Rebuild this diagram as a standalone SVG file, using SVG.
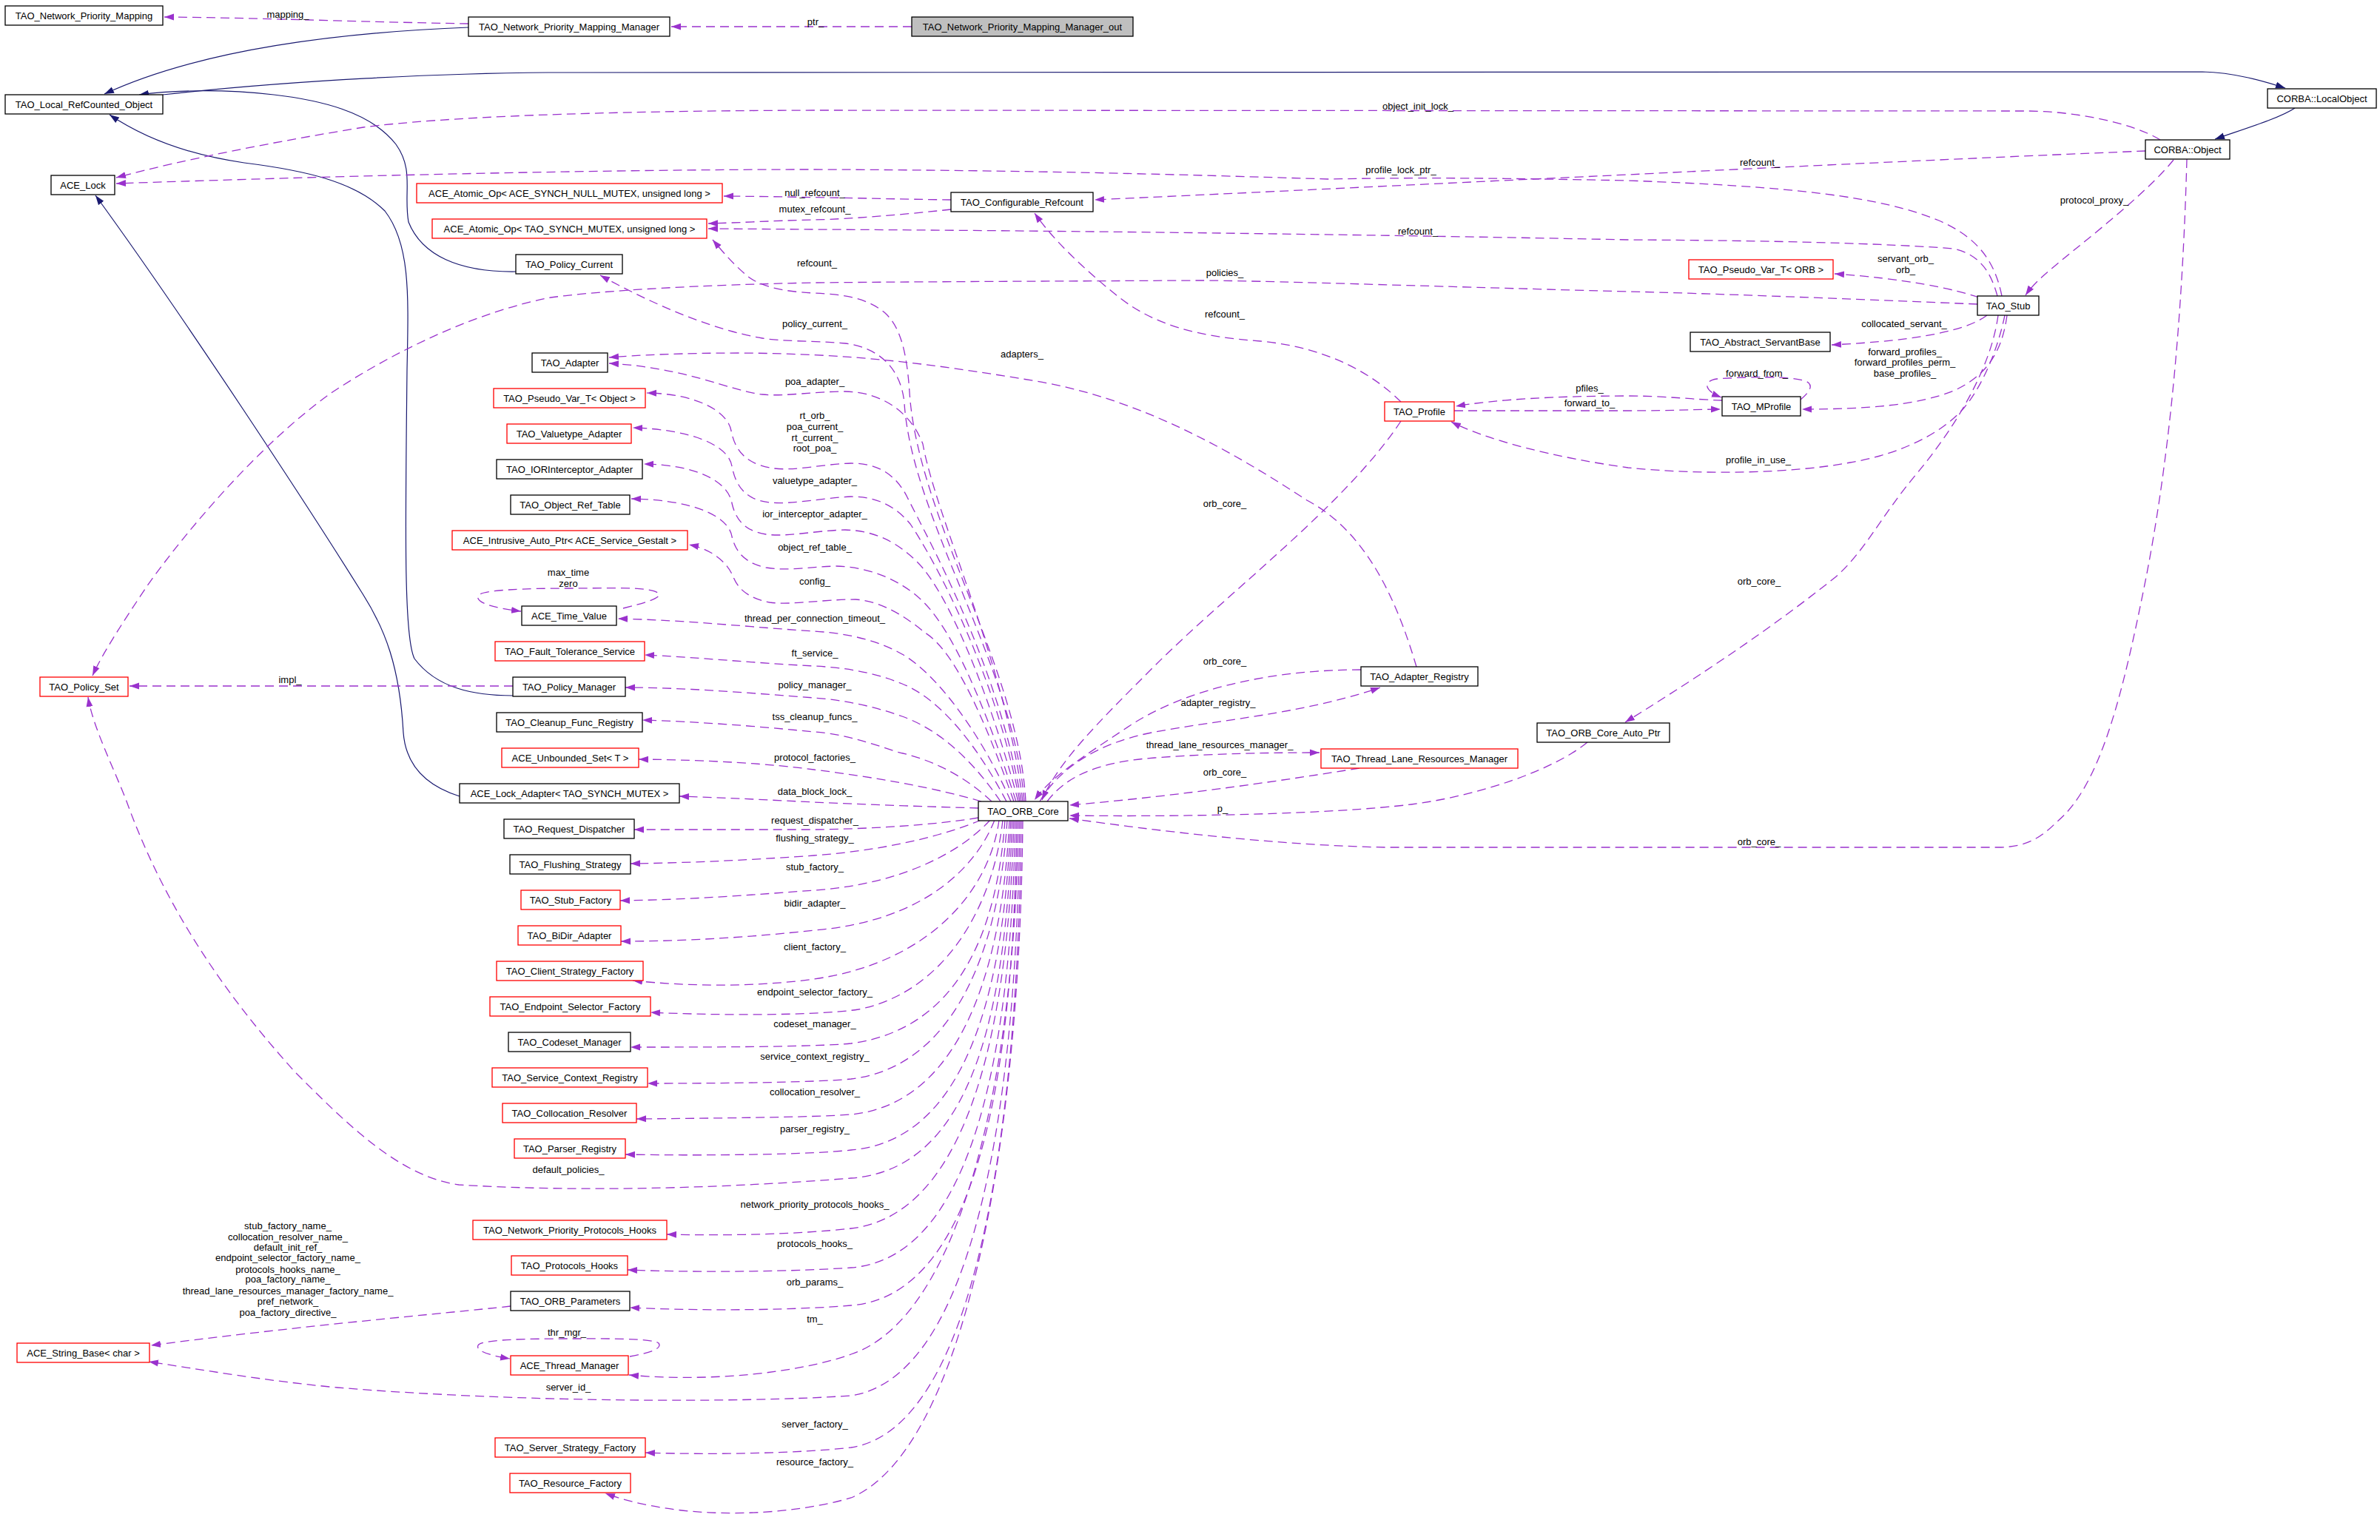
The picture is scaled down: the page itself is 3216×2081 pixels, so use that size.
<svg xmlns="http://www.w3.org/2000/svg" width="3216" height="2081" viewBox="0 0 3216 2081">
<style>
.n rect{fill:#fff;stroke:#000;stroke-width:1.3}
.r rect{stroke:#f00}
.g rect{fill:#bfbfbf}
text{font-family:"Liberation Sans",Arial,sans-serif;font-size:13px;fill:#000}
.n text,.l text{text-anchor:middle}
.e{fill:none;stroke:#9a32cd;stroke-width:1.3;stroke-dasharray:12,7;marker-end:url(#ap)}
.i{fill:none;stroke:#191970;stroke-width:1.2;marker-end:url(#an)}
</style>
<defs>
<marker id="ap" viewBox="0 0 14 10" refX="13" refY="5" markerWidth="14" markerHeight="10" markerUnits="userSpaceOnUse" orient="auto"><path d="M0,0.5 L13,5 L0,9.5 Z" fill="#9a32cd"/></marker>
<marker id="an" viewBox="0 0 14 10" refX="13" refY="5" markerWidth="14" markerHeight="10" markerUnits="userSpaceOnUse" orient="auto"><path d="M0,0.5 L13,5 L0,9.5 Z" fill="#191970"/></marker>
</defs>
<rect width="3216" height="2081" fill="#fff"/>
<g id="edges">
<path class="i" d="M633,37 C430,45 260,72 141,127"/>
<path class="i" d="M220,128 C400,108 600,99 740,98 L2976,97 C3020,98 3060,110 3088,119"/>
<path class="i" d="M3101,146 C3080,160 3030,175 2993,188"/>
<path class="i" d="M697,367 C620,368 570,345 552,300 C545,260 560,230 535,195 C500,150 430,135 370,128 C300,120 230,122 188,128"/>
<path class="i" d="M693,940 C640,940 590,930 560,890 C545,860 548,700 550,500 C552,400 555,330 520,285 C480,245 410,230 330,220 C260,210 200,190 148,155"/>
<path class="i" d="M621,1076 C570,1060 548,1030 545,990 C540,900 520,850 491,804 C420,690 250,430 129,264"/>
<path class="e" d="M1232,36 L907,36"/>
<path class="e" d="M633,32 C500,30 350,24 222,23"/>
<path class="e" d="M2919,189 C2880,165 2800,150 2738,150 L1100,149 C800,150 600,158 491,172 C380,190 250,215 157,240"/>
<path class="e" d="M2705,400 C2695,350 2670,320 2620,298 C2540,265 2420,252 2200,244 C2000,240 1900,240 1794,242 C1600,236 1400,230 1100,229 C800,229 450,238 157,248"/>
<path class="e" d="M2899,204 C2700,212 2400,226 2200,236 C1900,250 1700,260 1479,270"/>
<path class="e" d="M1285,270 C1200,269 1100,266 978,265"/>
<path class="e" d="M1285,283 C1220,290 1150,296 1100,297 C1050,298 1000,301 957,302"/>
<path class="e" d="M2699,400 C2692,375 2680,345 2640,336 C2550,329 2400,325 2200,324 C1900,318 1500,312 1100,310 L957,309"/>
<path class="e" d="M1386,1083 C1376,900 1240,700 1229,530 C1225,470 1215,440 1195,422 C1170,402 1140,398 1100,396 C1052,394 1025,385 1010,373 C992,358 978,342 963,324"/>
<path class="e" d="M2672,411 C2500,404 2300,396 2200,394 C1900,386 1700,379 1619,379 C1400,380 1200,381 1100,382 C950,385 820,392 744,402 C650,420 540,470 449,530 C350,600 250,720 200,790 C170,835 140,880 125,913"/>
<path class="e" d="M1893,543 C1860,510 1800,470 1703,461 C1620,455 1560,440 1510,400 C1460,360 1420,320 1398,288"/>
<path class="e" d="M1914,901 C1890,820 1850,720 1766,676 C1680,620 1550,540 1400,515 C1250,490 1150,478 1000,477 C920,477 860,480 823,483"/>
<path class="e" d="M1384,1083 C1370,900 1232,700 1222,545 C1218,500 1190,470 1142,464 C1100,460 1060,462 1030,457 C960,445 880,410 811,372"/>
<path class="e" d="M1382,1083 C1360,900 1265,700 1247,600 C1232,560 1195,530 1142,529 C1100,529 1060,536 1030,533 C985,528 930,497 823,491"/>
<path class="e" d="M1380,1083 C1350,900 1255,730 1226,672 C1210,640 1185,626 1150,626 C1110,627 1070,638 1040,632 C1002,625 992,602 988,582 C983,555 940,532 874,531"/>
<path class="e" d="M1378,1083 C1345,910 1265,760 1230,708 C1210,684 1185,671 1150,671 C1110,673 1070,682 1040,679 C1002,675 993,650 989,630 C984,600 930,580 855,578"/>
<path class="e" d="M1376,1083 C1335,930 1280,800 1240,760 C1215,735 1185,717 1142,716 C1100,717 1065,726 1035,722 C1002,717 993,697 989,680 C984,650 940,628 870,627"/>
<path class="e" d="M1373,1083 C1330,950 1285,845 1242,808 C1215,784 1175,766 1130,765 C1090,766 1065,772 1035,767 C1003,760 993,742 989,725 C984,695 930,675 853,674"/>
<path class="e" d="M1370,1083 C1330,970 1290,880 1250,855 C1222,832 1190,812 1156,810 C1110,810 1070,818 1040,814 C1010,808 997,795 991,780 C983,760 962,742 931,736"/>
<path class="e" d="M1366,1083 C1325,990 1265,910 1219,884 C1180,862 1135,855 1100,853 C1020,848 930,838 835,836"/>
<path class="e" d="M1360,1083 C1322,1010 1272,945 1219,924 C1180,908 1140,902 1100,900 C1020,896 940,888 871,885"/>
<path class="e" d="M1352,1083 C1316,1030 1272,987 1219,968 C1180,954 1140,946 1100,943 C1020,937 930,929 845,929"/>
<path class="e" d="M1340,1083 C1305,1050 1262,1027 1212,1016 C1170,1002 1140,992 1100,989 C1020,981 940,975 868,973"/>
<path class="e" d="M1326,1083 C1262,1064 1180,1050 1100,1040 C1040,1032 960,1027 863,1026"/>
<path class="e" d="M1322,1092 C1250,1090 1170,1087 1100,1084 C1040,1081 980,1078 918,1076"/>
<path class="e" d="M1322,1105 C1260,1115 1180,1120 1100,1121 L857,1121"/>
<path class="e" d="M1326,1108 C1260,1135 1180,1150 1100,1156 C1030,1161 940,1166 852,1167"/>
<path class="e" d="M1338,1108 C1300,1150 1220,1195 1100,1203 C1020,1209 930,1216 838,1217"/>
<path class="e" d="M1344,1108 C1320,1170 1250,1245 1100,1257 C1020,1266 930,1272 839,1272"/>
<path class="e" d="M1350,1108 C1338,1200 1260,1300 1100,1323 C1020,1334 930,1333 855,1325"/>
<path class="e" d="M1355,1108 C1343,1220 1280,1340 1160,1364 C1100,1373 960,1372 879,1368"/>
<path class="e" d="M1358,1108 C1348,1250 1300,1390 1150,1410 C1100,1415 950,1415 852,1415"/>
<path class="e" d="M1361,1108 C1352,1260 1300,1440 1150,1458 C1100,1463 960,1464 875,1464"/>
<path class="e" d="M1364,1108 C1356,1280 1310,1490 1150,1506 C1100,1510 960,1511 860,1512"/>
<path class="e" d="M1366,1108 C1358,1300 1320,1540 1150,1554 C1100,1560 960,1562 845,1560"/>
<path class="e" d="M1368,1108 C1360,1320 1330,1580 1150,1592 C1000,1604 800,1612 620,1601 C540,1590 470,1520 400,1450 C300,1340 220,1220 170,1080 C150,1030 125,980 119,942"/>
<path class="e" d="M1370,1108 C1364,1350 1320,1640 1150,1660 C1080,1668 980,1670 901,1668"/>
<path class="e" d="M1372,1108 C1367,1400 1320,1700 1150,1713 C1080,1718 950,1720 848,1716"/>
<path class="e" d="M1374,1108 C1370,1420 1330,1750 1150,1764 C1080,1770 960,1772 851,1767"/>
<path class="e" d="M1376,1108 C1372,1450 1300,1780 1150,1830 C1080,1855 960,1868 850,1858"/>
<path class="e" d="M1378,1108 C1374,1480 1320,1860 1150,1886 C1000,1896 700,1895 456,1875 C360,1866 280,1852 201,1840"/>
<path class="e" d="M1380,1108 C1376,1520 1320,1930 1150,1956 C1080,1964 960,1966 872,1963"/>
<path class="e" d="M1382,1108 C1378,1560 1300,1960 1150,2024 C1060,2050 920,2055 818,2018"/>
<path class="e" d="M690,1765 C600,1775 420,1790 204,1818"/>
<path class="e" d="M842,822 C870,815 895,808 890,802 C880,792 820,795 770,795 C710,795 650,797 646,805 C642,815 670,822 704,826"/>
<path class="e" d="M851,1833 C880,1828 895,1822 890,1815 C880,1808 820,1809 770,1809 C710,1809 650,1810 646,1818 C642,1827 670,1833 689,1836"/>
<path class="e" d="M693,927 L175,927"/>
<path class="e" d="M2327,541 C2290,540 2250,535 2200,535 C2100,535 2020,540 1967,549"/>
<path class="e" d="M1965,555 L2200,555 C2260,555 2300,553 2325,553"/>
<path class="e" d="M2433,540 C2445,530 2452,520 2440,515 C2420,508 2360,509 2320,512 C2300,515 2303,528 2326,537"/>
<path class="e" d="M2709,426 C2700,470 2680,520 2654,551 C2620,590 2560,615 2500,625 C2420,640 2300,642 2200,632 C2100,618 2010,595 1961,570"/>
<path class="e" d="M2712,426 C2705,480 2680,510 2640,528 C2590,548 2520,553 2435,553"/>
<path class="e" d="M2685,426 C2660,445 2600,460 2475,466"/>
<path class="e" d="M2674,402 C2640,390 2570,376 2479,370"/>
<path class="e" d="M2937,216 C2910,250 2850,300 2800,340 C2770,365 2750,380 2737,399"/>
<path class="e" d="M2700,426 C2690,500 2640,580 2590,640 C2540,700 2520,745 2480,780 C2380,860 2270,930 2196,976"/>
<path class="e" d="M2955,215 C2950,400 2935,600 2900,780 C2870,930 2840,1060 2780,1110 C2760,1130 2740,1145 2700,1145 L1872,1145 C1720,1142 1560,1122 1445,1106"/>
<path class="e" d="M2145,1003 C2100,1040 2000,1075 1907,1087 C1800,1100 1600,1104 1445,1102"/>
<path class="e" d="M1837,1038 C1750,1052 1600,1075 1445,1088"/>
<path class="e" d="M1415,1083 C1440,1050 1480,1030 1560,1024 C1640,1018 1720,1017 1783,1017"/>
<path class="e" d="M1405,1083 C1430,1040 1480,1005 1556,990 C1650,972 1760,965 1865,929"/>
<path class="e" d="M1839,905 C1720,905 1600,930 1520,985 C1460,1025 1420,1050 1398,1081"/>
<path class="e" d="M1893,569 C1820,680 1660,800 1560,900 C1480,980 1430,1030 1408,1081"/>
<g class="l">
<text x="389" y="23.5">mapping_</text>
<text x="1102" y="33.5">ptr_</text>
<text x="1916" y="147.5">object_init_lock_</text>
<text x="1893" y="233.5">profile_lock_ptr_</text>
<text x="2378" y="223.5">refcount_</text>
<text x="1101" y="264.5">null_refcount_</text>
<text x="1101" y="286.5">mutex_refcount_</text>
<text x="1916" y="316.5">refcount_</text>
<text x="1104" y="359.5">refcount_</text>
<text x="1655" y="372.5">policies_</text>
<text x="2575" y="353.5">servant_orb_</text>
<text x="2575" y="368.5">orb_</text>
<text x="1655" y="428.5">refcount_</text>
<text x="1101" y="441.5">policy_current_</text>
<text x="2573" y="441.5">collocated_servant_</text>
<text x="2830" y="274.5">protocol_proxy_</text>
<text x="1381" y="482.5">adapters_</text>
<text x="2574" y="479.5">forward_profiles_</text>
<text x="2574" y="493.5">forward_profiles_perm_</text>
<text x="2574" y="508.5">base_profiles_</text>
<text x="2374" y="508.5">forward_from_</text>
<text x="1101" y="519.5">poa_adapter_</text>
<text x="2148" y="528.5">pfiles_</text>
<text x="2148" y="548.5">forward_to_</text>
<text x="1101" y="565.5">rt_orb_</text>
<text x="1101" y="580.5">poa_current_</text>
<text x="1101" y="595.5">rt_current_</text>
<text x="1101" y="609.5">root_poa_</text>
<text x="2376" y="625.5">profile_in_use_</text>
<text x="1101" y="653.5">valuetype_adapter_</text>
<text x="1655" y="684.5">orb_core_</text>
<text x="1101" y="698.5">ior_interceptor_adapter_</text>
<text x="1101" y="743.5">object_ref_table_</text>
<text x="768" y="777.5">max_time</text>
<text x="768" y="792.5">zero</text>
<text x="1101" y="789.5">config_</text>
<text x="2377" y="789.5">orb_core_</text>
<text x="1101" y="839.5">thread_per_connection_timeout_</text>
<text x="1101" y="886.5">ft_service_</text>
<text x="1655" y="897.5">orb_core_</text>
<text x="392" y="922.5">impl_</text>
<text x="1101" y="929.5">policy_manager_</text>
<text x="1646" y="953.5">adapter_registry_</text>
<text x="1101" y="972.5">tss_cleanup_funcs_</text>
<text x="1648" y="1010.5">thread_lane_resources_manager_</text>
<text x="1101" y="1027.5">protocol_factories_</text>
<text x="1655" y="1047.5">orb_core_</text>
<text x="1101" y="1073.5">data_block_lock_</text>
<text x="1652" y="1096.5">p_</text>
<text x="1101" y="1112.5">request_dispatcher_</text>
<text x="1101" y="1136.5">flushing_strategy_</text>
<text x="2377" y="1141.5">orb_core_</text>
<text x="1101" y="1175.5">stub_factory_</text>
<text x="1101" y="1224.5">bidir_adapter_</text>
<text x="1101" y="1283.5">client_factory_</text>
<text x="1101" y="1344.5">endpoint_selector_factory_</text>
<text x="1101" y="1387.5">codeset_manager_</text>
<text x="1101" y="1431.5">service_context_registry_</text>
<text x="1101" y="1479.5">collocation_resolver_</text>
<text x="1101" y="1529.5">parser_registry_</text>
<text x="768" y="1584.5">default_policies_</text>
<text x="1101" y="1631.5">network_priority_protocols_hooks_</text>
<text x="389" y="1660.5">stub_factory_name_</text>
<text x="389" y="1675.5">collocation_resolver_name_</text>
<text x="389" y="1689.5">default_init_ref_</text>
<text x="389" y="1703.5">endpoint_selector_factory_name_</text>
<text x="389" y="1719.5">protocols_hooks_name_</text>
<text x="389" y="1732.5">poa_factory_name_</text>
<text x="389" y="1748.5">thread_lane_resources_manager_factory_name_</text>
<text x="389" y="1762.5">pref_network_</text>
<text x="389" y="1777.5">poa_factory_directive_</text>
<text x="1101" y="1684.5">protocols_hooks_</text>
<text x="1101" y="1736.5">orb_params_</text>
<text x="1101" y="1786.5">tm_</text>
<text x="766" y="1804.5">thr_mgr_</text>
<text x="768" y="1878.5">server_id_</text>
<text x="1101" y="1928.5">server_factory_</text>
<text x="1101" y="1979.5">resource_factory_</text>
</g>
</g>
<g id="n1" class="n"><rect x="7" y="8" width="213" height="26"/><text x="113.5" y="25.5">TAO_Network_Priority_Mapping</text></g>
<g id="n2" class="n"><rect x="633" y="23" width="272" height="26"/><text x="769" y="40.5">TAO_Network_Priority_Mapping_Manager</text></g>
<g id="n3" class="n g"><rect x="1232" y="23" width="299" height="26"/><text x="1381.5" y="40.5">TAO_Network_Priority_Mapping_Manager_out</text></g>
<g id="n4" class="n"><rect x="7" y="128" width="213" height="26"/><text x="113.5" y="145.5">TAO_Local_RefCounted_Object</text></g>
<g id="n5" class="n"><rect x="3064" y="120" width="147" height="26"/><text x="3137.5" y="137.5">CORBA::LocalObject</text></g>
<g id="n6" class="n"><rect x="2899" y="189" width="114" height="26"/><text x="2956" y="206.5">CORBA::Object</text></g>
<g id="n7" class="n"><rect x="69" y="237" width="86" height="26"/><text x="112" y="254.5">ACE_Lock</text></g>
<g id="n8" class="n r"><rect x="563" y="248" width="413" height="26"/><text x="769.5" y="265.5">ACE_Atomic_Op&lt; ACE_SYNCH_NULL_MUTEX, unsigned long &gt;</text></g>
<g id="n9" class="n"><rect x="1285" y="260" width="192" height="26"/><text x="1381" y="277.5">TAO_Configurable_Refcount</text></g>
<g id="n10" class="n r"><rect x="584" y="296" width="371" height="26"/><text x="769.5" y="313.5">ACE_Atomic_Op&lt; TAO_SYNCH_MUTEX, unsigned long &gt;</text></g>
<g id="n11" class="n"><rect x="697" y="344" width="144" height="26"/><text x="769" y="361.5">TAO_Policy_Current</text></g>
<g id="n12" class="n r"><rect x="2282" y="351" width="195" height="26"/><text x="2379.5" y="368.5">TAO_Pseudo_Var_T&lt; ORB &gt;</text></g>
<g id="n13" class="n"><rect x="2672" y="400" width="83" height="26"/><text x="2713.5" y="417.5">TAO_Stub</text></g>
<g id="n14" class="n"><rect x="2284" y="449" width="189" height="26"/><text x="2378.5" y="466.5">TAO_Abstract_ServantBase</text></g>
<g id="n15" class="n"><rect x="719" y="477" width="102" height="26"/><text x="770" y="494.5">TAO_Adapter</text></g>
<g id="n16" class="n r"><rect x="667" y="525" width="205" height="26"/><text x="769.5" y="542.5">TAO_Pseudo_Var_T&lt; Object &gt;</text></g>
<g id="n17" class="n"><rect x="2327" y="536" width="106" height="26"/><text x="2380" y="553.5">TAO_MProfile</text></g>
<g id="n18" class="n r"><rect x="1871" y="543" width="94" height="26"/><text x="1918" y="560.5">TAO_Profile</text></g>
<g id="n19" class="n r"><rect x="685" y="573" width="168" height="26"/><text x="769" y="590.5">TAO_Valuetype_Adapter</text></g>
<g id="n20" class="n"><rect x="671" y="621" width="197" height="26"/><text x="769.5" y="638.5">TAO_IORInterceptor_Adapter</text></g>
<g id="n21" class="n"><rect x="690" y="669" width="161" height="26"/><text x="770.5" y="686.5">TAO_Object_Ref_Table</text></g>
<g id="n22" class="n r"><rect x="611" y="717" width="318" height="26"/><text x="770" y="734.5">ACE_Intrusive_Auto_Ptr&lt; ACE_Service_Gestalt &gt;</text></g>
<g id="n23" class="n"><rect x="705" y="819" width="128" height="26"/><text x="769" y="836.5">ACE_Time_Value</text></g>
<g id="n24" class="n r"><rect x="669" y="867" width="202" height="26"/><text x="770" y="884.5">TAO_Fault_Tolerance_Service</text></g>
<g id="n25" class="n"><rect x="1839" y="901" width="158" height="26"/><text x="1918" y="918.5">TAO_Adapter_Registry</text></g>
<g id="n26" class="n r"><rect x="54" y="915" width="119" height="26"/><text x="113.5" y="932.5">TAO_Policy_Set</text></g>
<g id="n27" class="n"><rect x="693" y="915" width="152" height="26"/><text x="769" y="932.5">TAO_Policy_Manager</text></g>
<g id="n28" class="n"><rect x="671" y="963" width="197" height="26"/><text x="769.5" y="980.5">TAO_Cleanup_Func_Registry</text></g>
<g id="n29" class="n"><rect x="2077" y="977" width="179" height="26"/><text x="2166.5" y="994.5">TAO_ORB_Core_Auto_Ptr</text></g>
<g id="n30" class="n r"><rect x="678" y="1011" width="185" height="26"/><text x="770.5" y="1028.5">ACE_Unbounded_Set&lt; T &gt;</text></g>
<g id="n31" class="n r"><rect x="1785" y="1012" width="266" height="26"/><text x="1918" y="1029.5">TAO_Thread_Lane_Resources_Manager</text></g>
<g id="n32" class="n"><rect x="621" y="1059" width="297" height="26"/><text x="769.5" y="1076.5">ACE_Lock_Adapter&lt; TAO_SYNCH_MUTEX &gt;</text></g>
<g id="n33" class="n"><rect x="1322" y="1083" width="121" height="26"/><text x="1382.5" y="1100.5">TAO_ORB_Core</text></g>
<g id="n34" class="n"><rect x="681" y="1107" width="176" height="26"/><text x="769" y="1124.5">TAO_Request_Dispatcher</text></g>
<g id="n35" class="n"><rect x="689" y="1155" width="163" height="26"/><text x="770.5" y="1172.5">TAO_Flushing_Strategy</text></g>
<g id="n36" class="n r"><rect x="704" y="1203" width="134" height="26"/><text x="771" y="1220.5">TAO_Stub_Factory</text></g>
<g id="n37" class="n r"><rect x="700" y="1251" width="139" height="26"/><text x="769.5" y="1268.5">TAO_BiDir_Adapter</text></g>
<g id="n38" class="n r"><rect x="671" y="1299" width="198" height="26"/><text x="770" y="1316.5">TAO_Client_Strategy_Factory</text></g>
<g id="n39" class="n r"><rect x="662" y="1347" width="217" height="26"/><text x="770.5" y="1364.5">TAO_Endpoint_Selector_Factory</text></g>
<g id="n40" class="n"><rect x="687" y="1395" width="165" height="26"/><text x="769.5" y="1412.5">TAO_Codeset_Manager</text></g>
<g id="n41" class="n r"><rect x="665" y="1443" width="210" height="26"/><text x="770" y="1460.5">TAO_Service_Context_Registry</text></g>
<g id="n42" class="n r"><rect x="679" y="1491" width="181" height="26"/><text x="769.5" y="1508.5">TAO_Collocation_Resolver</text></g>
<g id="n43" class="n r"><rect x="695" y="1539" width="150" height="26"/><text x="770" y="1556.5">TAO_Parser_Registry</text></g>
<g id="n44" class="n r"><rect x="639" y="1649" width="262" height="26"/><text x="770" y="1666.5">TAO_Network_Priority_Protocols_Hooks</text></g>
<g id="n45" class="n r"><rect x="691" y="1697" width="157" height="26"/><text x="769.5" y="1714.5">TAO_Protocols_Hooks</text></g>
<g id="n46" class="n"><rect x="690" y="1745" width="161" height="26"/><text x="770.5" y="1762.5">TAO_ORB_Parameters</text></g>
<g id="n47" class="n r"><rect x="23" y="1815" width="179" height="26"/><text x="112.5" y="1832.5">ACE_String_Base&lt; char &gt;</text></g>
<g id="n48" class="n r"><rect x="690" y="1832" width="159" height="26"/><text x="769.5" y="1849.5">ACE_Thread_Manager</text></g>
<g id="n49" class="n r"><rect x="669" y="1943" width="203" height="26"/><text x="770.5" y="1960.5">TAO_Server_Strategy_Factory</text></g>
<g id="n50" class="n r"><rect x="689" y="1991" width="163" height="26"/><text x="770.5" y="2008.5">TAO_Resource_Factory</text></g>
</svg>
